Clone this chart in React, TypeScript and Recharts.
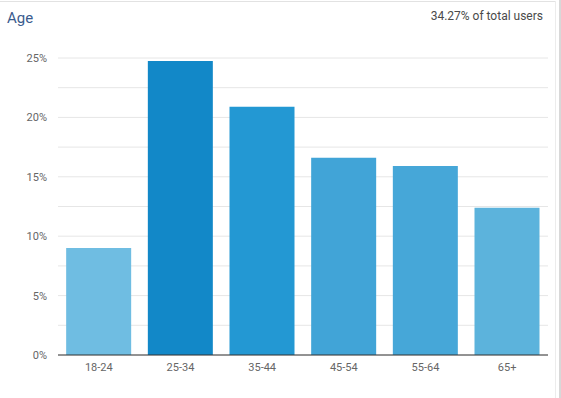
import React from 'react';
import { BarChart, Bar, XAxis, YAxis, CartesianGrid, Cell } from 'recharts';

const ageGroups = ['18-24', '25-34', '35-44', '45-54', '55-64', '65+'];
const userShare = [9.0, 24.75, 20.9, 16.6, 15.9, 12.4];
const barColors = ['#6fbde2', '#1288c8', '#2398d3', '#41a4d7', '#46a7d8', '#5cb3dc'];
const yTicks = [0, 2.5, 5, 7.5, 10, 12.5, 15, 17.5, 20, 22.5, 25];

const data = ageGroups.map((name, i) => ({ name, share: userShare[i] }));

const font = 'Roboto, "Noto Sans", sans-serif';

export default function App() {
  return (
    <div
      style={{
        position: 'absolute',
        left: 0,
        top: 0,
        width: 561,
        height: 398,
        background: '#fff',
        fontFamily: font,
        overflow: 'hidden',
      }}
    >
      <div style={{ position: 'absolute', left: 0, top: 1, width: 556, height: 1, background: '#e2e2e2' }} />
      <div style={{ position: 'absolute', left: 555, top: 1, width: 1, height: 397, background: '#ececec' }} />
      <div style={{ position: 'absolute', left: 559, top: 0, width: 2, height: 398, background: '#d8d8d8' }} />
      <div style={{ position: 'absolute', left: 7, top: 9, fontSize: 15, color: '#3b5b8e' }}>Age</div>
      <div style={{ position: 'absolute', right: 18, top: 9, fontSize: 12, color: '#4a4a4a' }}>
        34.27% of total users
      </div>
      <div style={{ position: 'absolute', left: 0, top: 0 }}>
        <BarChart
          width={561}
          height={398}
          data={data}
          margin={{ top: 58, right: 13, left: 8, bottom: 13 }}
          barCategoryGap="10%"
        >
          <CartesianGrid vertical={false} stroke="#e6e6e6" />
          <XAxis
            dataKey="name"
            height={30}
            tickLine={false}
            axisLine={{ stroke: '#333' }}
            tick={{ fill: '#666', fontSize: 11, fontFamily: font }}
          />
          <YAxis
            width={50}
            domain={[0, 25]}
            ticks={yTicks}
            interval={0}
            axisLine={false}
            tickLine={false}
            tickMargin={5}
            tick={{ fill: '#666', fontSize: 11, fontFamily: font }}
            tickFormatter={(v: number) => (v % 5 === 0 ? `${v}%` : '')}
          />
          <Bar dataKey="share" isAnimationActive={false}>
            {data.map((d, i) => (
              <Cell key={d.name} fill={barColors[i]} />
            ))}
          </Bar>
        </BarChart>
      </div>
    </div>
  );
}
